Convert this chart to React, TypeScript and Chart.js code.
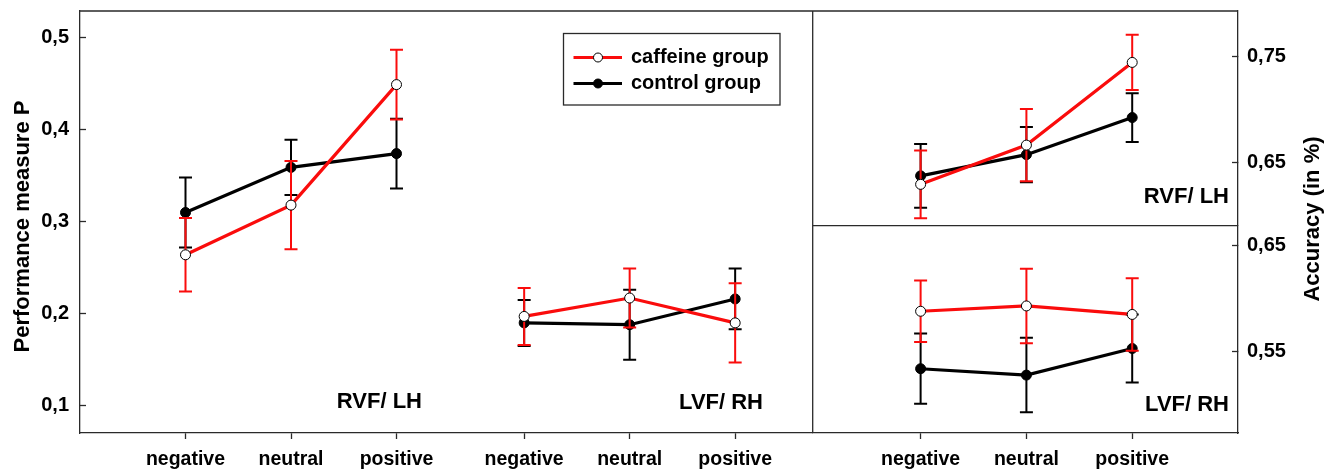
import React, { useEffect, useRef } from 'react';
import { Chart, registerables } from 'chart.js';

Chart.register(...registerables);

// ---------------- data ----------------
const emotions = ['negative', 'neutral', 'positive'];
const seriesNames = ['caffeine group', 'control group'];
const panelLabels = ['RVF/ LH', 'LVF/ RH'];
const yTitleLeft = 'Performance measure P';
const yTitleRight = 'Accuracy (in %)';

// Performance measure P, RVF/LH
const perfRvfCaffeine = [0.264, 0.318, 0.449];
const perfRvfCaffeineErr = [0.04, 0.048, 0.038];
const perfRvfControl = [0.31, 0.359, 0.374];
const perfRvfControlErr = [0.038, 0.03, 0.038];
// Performance measure P, LVF/RH
const perfLvfCaffeine = [0.197, 0.217, 0.19];
const perfLvfCaffeineErr = [0.031, 0.032, 0.043];
const perfLvfControl = [0.19, 0.188, 0.216];
const perfLvfControlErr = [0.025, 0.038, 0.033];
// Accuracy, RVF/LH
const accRvfCaffeine = [0.629, 0.666, 0.744];
const accRvfCaffeineErr = [0.032, 0.034, 0.026];
const accRvfControl = [0.637, 0.657, 0.692];
const accRvfControlErr = [0.03, 0.026, 0.023];
// Accuracy, LVF/RH
const accLvfCaffeine = [0.588, 0.593, 0.585];
const accLvfCaffeineErr = [0.029, 0.035, 0.034];
const accLvfControl = [0.534, 0.528, 0.553];
const accLvfControlErr = [0.033, 0.035, 0.032];

// tick labels
const perfTicks = [0.1, 0.2, 0.3, 0.4, 0.5];
const accTopTicks = [0.65, 0.75];
const accBottomTicks = [0.55, 0.65];

// ---------------- styling / layout ----------------
const FONT = "'Liberation Sans', Arial, Helvetica, sans-serif";
const RED = 'rgb(250,12,12)';
const FRAME = '#2a2a2a';
const GROUP_OFFSET = 3.21; // second group on the left panel

const fmt = (dec: number) => (v: any) => Number(v).toFixed(dec).replace('.', ',');

function makeSet(label: string, values: number[], errs: number[], xOffset: number, xAxisID: string, yAxisID: string, caffeine: boolean) {
  return {
    label,
    data: values.map((v, i) => ({ x: i + 1 + xOffset, y: v })),
    errors: errs,
    errColor: caffeine ? RED : '#000',
    xAxisID,
    yAxisID,
    borderColor: caffeine ? RED : '#000',
    backgroundColor: caffeine ? RED : '#000',
    borderWidth: 3.2,
    pointRadius: 5,
    pointBackgroundColor: caffeine ? '#fff' : '#000',
    pointBorderColor: '#000',
    pointBorderWidth: 1,
    tension: 0,
    clip: false,
  };
}

const decorPlugin = {
  id: 'decor',
  beforeDatasetsDraw(chart: any) {
    const ctx = chart.ctx;
    const { left, right, top, bottom } = chart.chartArea;
    const xL = chart.scales.xL;
    const yRT = chart.scales.yRT;
    ctx.save();
    ctx.strokeStyle = FRAME;
    ctx.lineWidth = 1.3;
    ctx.beginPath();
    ctx.moveTo(left, top);
    ctx.lineTo(right, top);
    ctx.moveTo(xL.right, top);
    ctx.lineTo(xL.right, bottom);
    ctx.moveTo(xL.right, yRT.bottom);
    ctx.lineTo(right, yRT.bottom);
    ctx.stroke();
    ctx.restore();
  },
  beforeDatasetDraw(chart: any, args: any) {
    const ds = chart.data.datasets[args.index];
    const meta = args.meta;
    const yScale = chart.scales[meta.yAxisID];
    const ctx = chart.ctx;
    ctx.save();
    ctx.strokeStyle = ds.errColor;
    ctx.lineWidth = 2;
    ds.data.forEach((pt: any, i: number) => {
      const el = meta.data[i];
      const x = el.x;
      const yt = yScale.getPixelForValue(pt.y + ds.errors[i]);
      const yb = yScale.getPixelForValue(pt.y - ds.errors[i]);
      ctx.beginPath();
      ctx.moveTo(x, yt);
      ctx.lineTo(x, yb);
      ctx.moveTo(x - 6.5, yt);
      ctx.lineTo(x + 6.5, yt);
      ctx.moveTo(x - 6.5, yb);
      ctx.lineTo(x + 6.5, yb);
      ctx.stroke();
    });
    ctx.restore();
  },
  afterDraw(chart: any) {
    const ctx = chart.ctx;
    ctx.save();
    ctx.fillStyle = '#000';
    // axis titles
    ctx.font = `bold 22px ${FONT}`;
    ctx.textAlign = 'center';
    ctx.textBaseline = 'middle';
    ctx.save();
    ctx.translate(22.5, 226.5);
    ctx.rotate(-Math.PI / 2);
    ctx.fillText(yTitleLeft, 0, 0);
    ctx.restore();
    ctx.save();
    ctx.translate(1312.5, 219);
    ctx.rotate(-Math.PI / 2);
    ctx.fillText(yTitleRight, 0, 0);
    ctx.restore();

    // panel labels
    ctx.textAlign = 'right';
    ctx.fillText(panelLabels[0], 422, 402);
    ctx.fillText(panelLabels[1], 763, 403);
    ctx.fillText(panelLabels[0], 1229, 197);
    ctx.fillText(panelLabels[1], 1229, 405);

    // legend
    ctx.strokeStyle = FRAME;
    ctx.lineWidth = 1.3;
    ctx.strokeRect(563.5, 33.5, 216.5, 71.5);
    const rows = [57.5, 83.5];
    const colors = [RED, '#000'];
    const fills = ['#fff', '#000'];
    rows.forEach((y, i) => {
      ctx.strokeStyle = colors[i];
      ctx.lineWidth = 3.2;
      ctx.beginPath();
      ctx.moveTo(573.5, y);
      ctx.lineTo(622, y);
      ctx.stroke();
      ctx.beginPath();
      ctx.arc(598, y, 4.5, 0, Math.PI * 2);
      ctx.fillStyle = fills[i];
      ctx.fill();
      ctx.strokeStyle = '#000';
      ctx.lineWidth = 1;
      ctx.stroke();
      ctx.fillStyle = '#000';
      ctx.font = `bold 20px ${FONT}`;
      ctx.textAlign = 'left';
      ctx.textBaseline = 'middle';
      ctx.fillText(seriesNames[i], 631, y);
    });
    ctx.restore();
  },
};

const tickFont = { family: FONT, size: 20, weight: 'bold' as const };

function yAxis(position: 'left' | 'right', min: number, max: number, values: number[], dec: number, extra: any) {
  return {
    type: 'linear',
    position,
    min,
    max,
    afterBuildTicks: (s: any) => {
      s.ticks = values.map((value) => ({ value }));
    },
    afterFit: (s: any) => {
      s.width = position === 'left' ? 80 : 95;
      s.paddingTop = 0;
      s.paddingBottom = 0;
    },
    grid: { display: true, drawOnChartArea: false, drawTicks: true, tickLength: -6, tickColor: FRAME, tickWidth: 1.3 },
    border: { display: true, color: FRAME, width: 1.3 },
    ticks: { font: tickFont, color: '#000', padding: position === 'left' ? 17 : 15, callback: fmt(dec) },
    ...extra,
  };
}

function xAxis(min: number, max: number, values: number[], weight: number) {
  return {
    type: 'linear',
    position: 'bottom',
    stack: 'x',
    stackWeight: weight,
    min,
    max,
    afterBuildTicks: (s: any) => {
      s.ticks = values.map((value) => ({ value }));
    },
    afterFit: (s: any) => {
      s.height = 38;
      s.paddingLeft = 0;
      s.paddingRight = 0;
    },
    grid: { display: true, drawOnChartArea: false, drawTicks: true, tickLength: 6, tickColor: FRAME, tickWidth: 1.3 },
    border: { display: true, color: FRAME, width: 1.3 },
    ticks: {
      font: { family: FONT, size: 19.5, weight: 'bold' as const },
      color: '#000',
      padding: 9,
      autoSkip: false,
      maxRotation: 0,
      minRotation: 0,
      callback: (_v: any, i: number) => emotions[i % emotions.length],
    },
  };
}

export default function App() {
  const ref = useRef<HTMLCanvasElement>(null);

  useEffect(() => {
    if (!ref.current) return;
    const leftX = [0, GROUP_OFFSET].flatMap((g) => emotions.map((_, i) => i + 1 + g));
    const rightX = emotions.map((_, i) => i + 1);
    const chart = new Chart(ref.current, {
      type: 'line',
      data: {
        datasets: [
          makeSet(seriesNames[0], perfRvfCaffeine, perfRvfCaffeineErr, 0, 'xL', 'yL', true),
          makeSet(seriesNames[1], perfRvfControl, perfRvfControlErr, 0, 'xL', 'yL', false),
          makeSet(seriesNames[0], perfLvfCaffeine, perfLvfCaffeineErr, GROUP_OFFSET, 'xL', 'yL', true),
          makeSet(seriesNames[1], perfLvfControl, perfLvfControlErr, GROUP_OFFSET, 'xL', 'yL', false),
          makeSet(seriesNames[0], accRvfCaffeine, accRvfCaffeineErr, 0, 'xR', 'yRT', true),
          makeSet(seriesNames[1], accRvfControl, accRvfControlErr, 0, 'xR', 'yRT', false),
          makeSet(seriesNames[0], accLvfCaffeine, accLvfCaffeineErr, 0, 'xR', 'yRB', true),
          makeSet(seriesNames[1], accLvfControl, accLvfControlErr, 0, 'xR', 'yRB', false),
        ] as any,
      },
      options: {
        animation: false,
        responsive: false,
        devicePixelRatio: 1,
        layout: { autoPadding: false, padding: { top: 11, left: 0, right: 0, bottom: 0 } },
        plugins: { legend: { display: false }, tooltip: { enabled: false } },
        scales: {
          xL: xAxis(0, 6.945, leftX, 732.7),
          xR: xAxis(-0.02, 4.0, rightX, 425.3),
          yL: yAxis('left', 0.0703, 0.529, perfTicks, 1, {}),
          yRT: yAxis('right', 0.59, 0.7925, accTopTicks, 2, { stack: 'yr', stackWeight: 214.7 }),
          yRB: yAxis('right', 0.4736, 0.6684, accBottomTicks, 2, { stack: 'yr', stackWeight: 207.3 }),
        } as any,
      },
      plugins: [decorPlugin as any],
    });
    return () => chart.destroy();
  }, []);

  return (
    <div style={{ position: 'absolute', left: 0, top: 0, width: 1333, height: 471, background: '#fff' }}>
      <canvas ref={ref} width={1333} height={471} style={{ display: 'block' }} />
    </div>
  );
}
